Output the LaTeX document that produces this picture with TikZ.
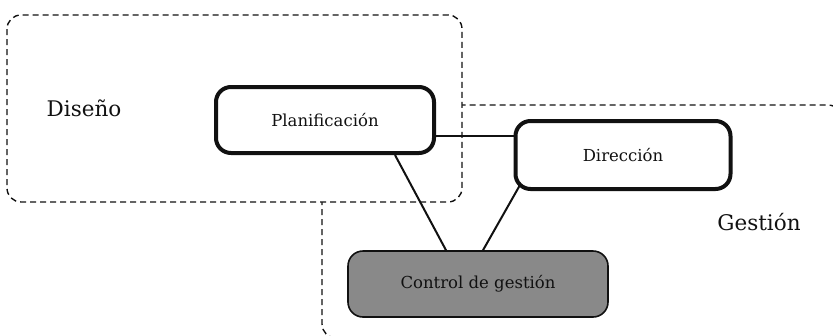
\documentclass[tikz,border=0pt]{standalone}
\usepackage{fontspec}
\setmainfont{DejaVu Serif}
\usetikzlibrary{calc}
\definecolor{boxgray}{HTML}{898989}
\definecolor{ink}{HTML}{111111}
\begin{document}
\begin{tikzpicture}[x=1pt,y=-1pt,
  region/.style={draw=ink,line width=1.4pt,dash pattern=on 6pt off 4pt,rounded corners=14pt},
  proc/.style={draw=ink,line width=4pt,rounded corners=15pt,fill=white,font=\fontsize{16.5}{19}\selectfont,text=ink},
  ctrlbox/.style={draw=ink,line width=1.6pt,rounded corners=15pt,fill=boxgray,font=\fontsize{16.5}{19}\selectfont,text=ink},
  link/.style={draw=ink,line width=2pt},
  zone/.style={font=\fontsize{21.5}{25}\selectfont,text=ink}]
\clip (0,0) rectangle (833,335);
\useasboundingbox (0,0) rectangle (833,335);
% Gestion region (partly hidden, runs off the right and bottom edges)
\draw[region] (322,105) rectangle (842,338);
% Diseno region, filled white
\draw[region,fill=white] (7,15) rectangle (462,202);
\node[zone] (diseno) at (84,108) {Diseño};
\node[zone] (gestion) at (759,222) {Gestión};
% nodes
\node[proc,minimum width=218pt,minimum height=66pt] (plan) at (325,120) {Planificación};
\node[proc,minimum width=215pt,minimum height=68pt] (dir) at (623,155) {Dirección};
\node[ctrlbox,minimum width=260pt,minimum height=66pt] (ctrl) at (478,284) {Control de gestión};
% connectors
\draw[link] ($(plan.east)+(-2,16)$) -- ($(dir.west)+(2,-19)$);
\draw[link] ($(plan.south)+(70,0)$) -- ($(ctrl.north)+(-32,0)$);
\draw[link] ($(dir.center)+(-103,30)$) -- ($(ctrl.north)+(5,0)$);
\end{tikzpicture}
\end{document}
